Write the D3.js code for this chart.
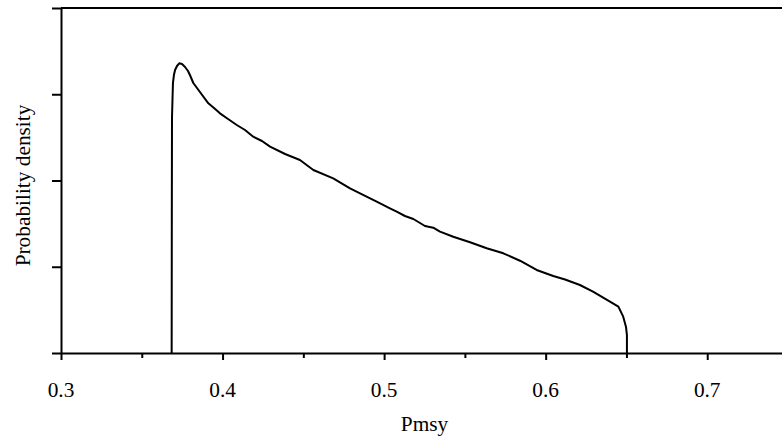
<!DOCTYPE html>
<html>
<head>
<meta charset="utf-8">
<script src="https://cdn.jsdelivr.net/npm/d3@7"></script>
<style>
  html, body { margin: 0; padding: 0; background: #fff; }
  svg { display: block; }
</style>
</head>
<body>
<svg id="chart" width="782" height="444"></svg>
<script>
// ---- data ----
const pmsy = [0.3685, 0.3686, 0.3687, 0.3690, 0.3693, 0.3699, 0.3706, 0.3718, 0.3732, 0.3749,
  0.3768, 0.3786, 0.3798, 0.3819, 0.3860, 0.3912, 0.3947, 0.3984, 0.4034, 0.4088,
  0.4139, 0.4190, 0.4244, 0.4294, 0.4387, 0.4479, 0.4562, 0.4685, 0.4789, 0.4851,
  0.4954, 0.5036, 0.5078, 0.5129, 0.5181, 0.5253, 0.5304, 0.5346, 0.5428, 0.5532,
  0.5635, 0.5738, 0.5841, 0.5944, 0.6047, 0.6120, 0.6212, 0.6293, 0.6398, 0.6450,
  0.6480, 0.6497, 0.6503, 0.6503];
const density = [0, 3.27, 5.449, 5.867, 6.261, 6.446, 6.562, 6.655, 6.718, 6.701,
  6.632, 6.539, 6.446, 6.261, 6.052, 5.790, 5.681, 5.558, 5.426, 5.287,
  5.171, 5.016, 4.916, 4.784, 4.614, 4.475, 4.243, 4.051, 3.819, 3.703,
  3.508, 3.355, 3.277, 3.177, 3.107, 2.945, 2.906, 2.813, 2.697, 2.567,
  2.428, 2.312, 2.140, 1.925, 1.786, 1.704, 1.577, 1.421, 1.190, 1.074,
  0.842, 0.610, 0.417, 0];
const xMajorTicks = [0.3, 0.4, 0.5, 0.6, 0.7];
const xMinorTicks = [0.35, 0.45, 0.55, 0.65, 0.75];
const xTickLabels = ["0.3", "0.4", "0.5", "0.6", "0.7"];
const yTicks = [0, 2, 4, 6, 8];
const xDomain = [0.3, 0.75];
const yDomain = [0, 8];
const xTitle = "Pmsy";
const yTitle = "Probability density";

(function () {
  // pick an installed serif face (Times-like preferred)
  const candidates = ["Liberation Serif", "Times New Roman", "Tinos", "Times", "Nimbus Roman",
    "Noto Serif", "DejaVu Serif", "FreeSerif"];
  const ctx = document.createElement("canvas").getContext("2d");
  const probe = "Probability density 0.123 Pmsy WwIl";
  function w(f) { ctx.font = "100px " + f; return ctx.measureText(probe).width; }
  const wMono = w("monospace"), wSans = w("sans-serif");
  let chosen = "serif";
  for (const c of candidates) {
    const a = w(`'${c}', monospace`), b = w(`'${c}', sans-serif`);
    if (Math.abs(a - b) < 0.5 && Math.abs(a - wMono) > 0.5) { chosen = `'${c}'`; break; }
  }
  const FF = chosen + ", serif";

  const svg = d3.select("#chart");
  const mLeft = 61, mRight = 788, mTop = 8, mBottom = 353;
  const x = d3.scaleLinear().domain(xDomain).range([mLeft, mRight]);
  const y = d3.scaleLinear().domain(yDomain).range([mBottom, mTop]);
  const FS = "21.33px";

  // top border line
  svg.append("line")
    .attr("x1", x(xDomain[0])).attr("x2", x(xDomain[1]))
    .attr("y1", y(yDomain[1])).attr("y2", y(yDomain[1]))
    .attr("stroke", "#000").attr("stroke-width", 2);

  // y axis
  const gy = svg.append("g").attr("transform", `translate(${mLeft},0)`)
    .call(d3.axisLeft(y).tickValues(yTicks).tickSize(9).tickSizeOuter(0).tickFormat(""));
  gy.selectAll("path, line").attr("stroke", "#000").attr("stroke-width", 2);

  // x axis major
  const gx = svg.append("g").attr("transform", `translate(0,${mBottom})`)
    .call(d3.axisBottom(x).tickValues(xMajorTicks).tickSize(7).tickSizeOuter(0).tickFormat(""));
  gx.selectAll("path, line").attr("stroke", "#000").attr("stroke-width", 2);
  // x axis minor
  const gxm = svg.append("g").attr("transform", `translate(0,${mBottom})`)
    .call(d3.axisBottom(x).tickValues(xMinorTicks).tickSize(5).tickSizeOuter(0).tickFormat(""));
  gxm.select("path").remove();
  gxm.selectAll("line").attr("stroke", "#000").attr("stroke-width", 2);

  // x tick labels
  svg.append("g").selectAll("text").data(xMajorTicks).join("text")
    .attr("x", d => x(d)).attr("y", 397)
    .attr("text-anchor", "middle")
    .attr("font-family", FF).attr("font-size", FS).attr("fill", "#000")
    .text((d, i) => xTickLabels[i]);

  // axis titles
  svg.append("text")
    .attr("x", (mLeft + mRight) / 2).attr("y", 431)
    .attr("text-anchor", "middle")
    .attr("font-family", FF).attr("font-size", FS).attr("fill", "#000")
    .text(xTitle);
  svg.append("text")
    .attr("transform", `translate(30,${(mTop + mBottom) / 2 + 5}) rotate(-90)`)
    .attr("text-anchor", "middle")
    .attr("font-family", FF).attr("font-size", FS).attr("fill", "#000")
    .text(yTitle);

  // density curve
  const line = d3.line().x(d => x(d[0])).y(d => y(d[1]));
  svg.append("path")
    .datum(pmsy.map((p, i) => [p, density[i]]))
    .attr("d", line)
    .attr("fill", "none").attr("stroke", "#000").attr("stroke-width", 2)
    .attr("stroke-linejoin", "round");
})();
</script>
</body>
</html>
